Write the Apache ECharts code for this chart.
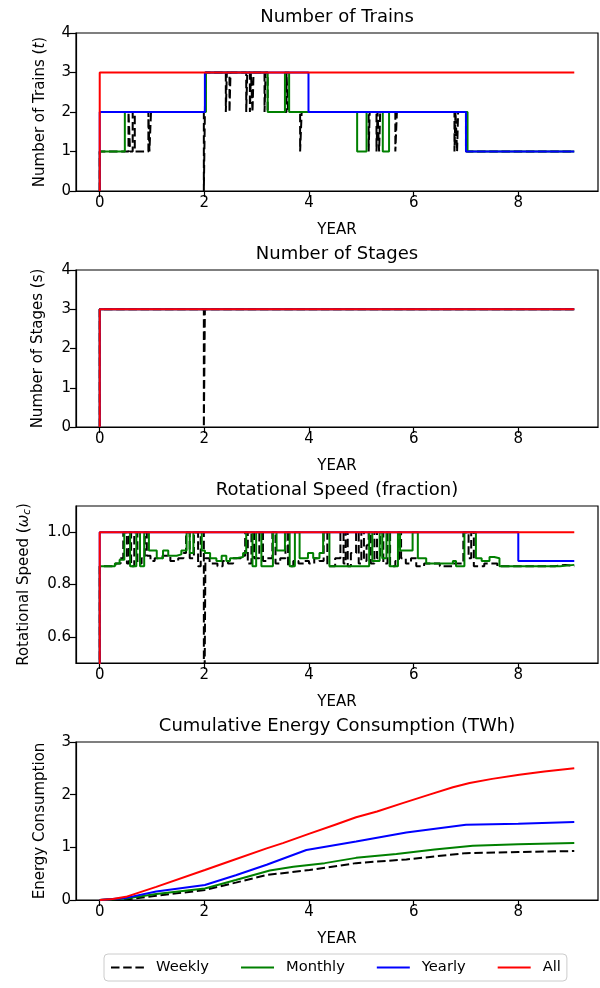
<!DOCTYPE html>
<html><head><meta charset="utf-8">
<script src="https://cdn.jsdelivr.net/npm/echarts@6/dist/echarts.min.js"></script>
<style>html,body{margin:0;padding:0;background:#fff}#c{width:600px;height:988px}</style>
</head><body><div id="c"></div>
<script>
const seriesNames = ['Weekly', 'Monthly', 'Yearly', 'All'];
const titles = ['Number of Trains', 'Number of Stages', 'Rotational Speed (fraction)', 'Cumulative Energy Consumption (TWh)'];
const xTicks = [0, 2, 4, 6, 8];
const speedTicks = [0.6, 0.8, 1.0];

// Number of Trains (step changes: [year, value from that year on])
const trainsWeekly = [[0,0],[0,1],[0.55,2],[0.58,1],[0.63,2],[0.67,1],[0.93,2],[0.95,1],[0.98,2],[1.99,0],[2.02,3],[2.41,2],[2.43,3],[2.48,2],[2.5,3],[2.8,2],[2.82,3],[2.87,2],[2.89,3],[2.92,2],[2.94,3],[3.15,2],[3.17,3],[3.21,2],[3.57,3],[3.6,2],[3.83,1],[3.86,2],[5.14,1],[5.16,2],[5.29,1],[5.31,2],[5.34,1],[5.36,2],[5.65,1],[5.68,2],[6.78,1],[6.8,2],[6.83,1],[6.85,2],[7.0,1],[9.07,1]];
const trainsMonthly = [[0,0],[0,1],[0.48,2],[2.03,3],[3.21,2],[3.54,3],[3.62,2],[4.92,1],[5.1,2],[5.41,1],[5.53,2],[7.03,1],[9.07,1]];
const trainsYearly = [[0,0],[0,2],[2.01,3],[3.99,2],[7.0,1],[9.07,1]];
const trainsAll = [[0,0],[0,3],[9.07,3]];

// Number of Stages
const stagesWeekly = [[0,0],[0,3],[1.99,0],[2.01,3],[9.07,3]];
const stagesMonthly = [[0,0],[0,3],[9.07,3]];
const stagesYearly = [[0,0],[0,3],[9.07,3]];
const stagesAll = [[0,0],[0,3],[9.07,3]];

// Rotational Speed (fraction)
const speedWeekly = [[0,0],[0,0.87],[0.3,0.88],[0.4,0.9],[0.45,1.0],[0.52,0.88],[0.56,1.0],[0.6,0.87],[0.66,1.0],[0.72,0.88],[0.8,0.9],[0.86,1.0],[0.9,0.91],[0.97,0.89],[1.05,0.9],[1.2,0.91],[1.35,0.89],[1.5,0.9],[1.6,0.92],[1.65,1.0],[1.72,0.9],[1.8,1.0],[1.88,0.87],[1.93,1.0],[1.99,0],[2.02,0.9],[2.1,0.88],[2.25,0.87],[2.35,0.89],[2.45,0.88],[2.55,0.9],[2.7,0.91],[2.78,1.0],[2.83,0.88],[2.9,1.0],[2.95,0.9],[3.05,1.0],[3.12,0.89],[3.2,0.9],[3.3,1.0],[3.36,0.88],[3.45,0.9],[3.55,1.0],[3.6,0.87],[3.7,0.89],[3.8,0.88],[3.9,0.89],[4.0,0.88],[4.1,0.9],[4.2,0.89],[4.28,1.0],[4.35,0.87],[4.5,0.9],[4.6,1.0],[4.66,0.88],[4.7,1.0],[4.74,0.87],[4.8,0.92],[4.9,1.0],[4.95,0.88],[5.0,1.0],[5.05,0.89],[5.1,0.95],[5.14,1.0],[5.18,0.88],[5.25,1.0],[5.3,0.9],[5.36,1.0],[5.42,0.88],[5.5,1.0],[5.55,0.87],[5.65,0.89],[5.72,1.0],[5.76,0.9],[5.85,0.88],[5.95,0.9],[6.05,0.87],[6.2,0.88],[6.5,0.87],[6.75,0.88],[6.95,1.0],[7.05,0.9],[7.1,1.0],[7.15,0.87],[7.35,0.88],[7.6,0.87],[8.7,0.875],[8.9,0.87],[9.07,0.87]];
const speedMonthly = [[0,0],[0,0.87],[0.29,0.88],[0.38,0.895],[0.47,1.0],[0.58,0.87],[0.7,1.0],[0.77,0.87],[0.85,1.0],[0.94,0.93],[1.09,0.9],[1.21,0.93],[1.31,0.91],[1.47,0.915],[1.56,0.93],[1.66,1.0],[1.72,0.92],[1.79,1.0],[1.95,0.93],[2.01,0.92],[2.11,0.9],[2.23,0.89],[2.33,0.91],[2.42,0.89],[2.49,0.9],[2.61,0.905],[2.74,0.92],[2.8,1.0],[2.92,0.87],[2.99,1.0],[3.09,0.87],[3.31,1.0],[3.38,0.93],[3.54,1.0],[3.63,0.87],[3.73,1.0],[3.82,0.9],[3.98,0.92],[4.08,0.9],[4.2,0.92],[4.27,1.0],[4.39,0.87],[5.15,1.0],[5.21,0.89],[5.35,1.0],[5.4,0.9],[5.48,1.0],[5.54,0.87],[5.7,1.0],[5.74,0.93],[5.98,1.0],[6.08,0.9],[6.24,0.88],[6.75,0.89],[6.81,0.87],[6.97,1.0],[7.19,0.9],[7.3,0.89],[7.45,0.905],[7.54,0.9],[7.64,0.87],[8.8,0.875],[9.07,0.875]];
const speedYearly = [[0,0],[0,1.0],[8.0,0.89],[9.07,0.89]];
const speedAll = [[0,0],[0,1.0],[9.07,1.0]];

// Cumulative Energy Consumption (TWh)
const energyWeekly = [[0,0],[0.58,0.02],[1.08,0.08],[2.01,0.19],[2.6,0.33],[3.19,0.475],[4.01,0.57],[4.9,0.7],[5.86,0.77],[7.0,0.89],[8.0,0.91],[9.07,0.93]];
const energyMonthly = [[0,0],[0.5,0.03],[1.08,0.114],[2.01,0.22],[2.6,0.38],[3.25,0.56],[3.7,0.63],[4.3,0.7],[4.9,0.8],[5.67,0.875],[6.4,0.96],[7.13,1.03],[8.0,1.06],[9.07,1.08]];
const energyYearly = [[0,0],[0.5,0.04],[1.08,0.16],[2.01,0.285],[2.6,0.47],[3.19,0.67],[3.95,0.95],[4.9,1.11],[5.86,1.28],[7.0,1.43],[8.0,1.45],[9.07,1.48]];
const energyAll = [[0,0],[0.25,0.02],[0.5,0.06],[1.08,0.25],[2.01,0.57],[2.5,0.74],[3.19,0.98],[3.5,1.08],[4.01,1.26],[4.5,1.43],[4.9,1.57],[5.3,1.68],[5.79,1.84],[6.3,2.0],[6.75,2.14],[7.07,2.22],[7.5,2.3],[8.02,2.38],[8.5,2.44],[9.07,2.5]];

const FONT = '"DejaVu Sans", sans-serif';
const colors = {Weekly:'#000000', Monthly:'#008000', Yearly:'#0000ff', All:'#ff0000'};
const grids = [
  {left:76, top:33, width:522, height:158},
  {left:76, top:270, width:522, height:157},
  {left:76, top:506, width:522, height:157},
  {left:76, top:742, width:522, height:158}
];
const panels = [
  {data:[trainsWeekly, trainsMonthly, trainsYearly, trainsAll], step:true, min:0, max:4, interval:1,
   name:'{n|Number of Trains (}{i|t}{n|)}', gap:28},
  {data:[stagesWeekly, stagesMonthly, stagesYearly, stagesAll], step:true, min:0, max:4, interval:1,
   name:'{n|Number of Stages (s)}', gap:30},
  {data:[speedWeekly, speedMonthly, speedYearly, speedAll], step:true, min:0.5, max:1.1, custom:speedTicks,
   name:'{n|Rotational Speed (}{i|ω}{s|c}{n|)}', gap:43},
  {data:[energyWeekly, energyMonthly, energyYearly, energyAll], step:false, min:0, max:3, interval:1,
   name:'{n|Energy Consumption}', gap:28}
];
const rich = {
  n:{fontSize:15, fontFamily:FONT, color:'#000'},
  i:{fontSize:15, fontFamily:FONT, fontStyle:'italic', color:'#000'},
  s:{fontSize:10.5, fontFamily:FONT, fontStyle:'italic', color:'#000', padding:[7,0,0,0]}
};
const axisLine = {show:true, onZero:false, lineStyle:{color:'#000', width:1.2}};
const axisTick = {show:true, length:6, inside:false, lineStyle:{color:'#000', width:1.2}};
const labelStyle = {color:'#000', fontSize:15, fontFamily:FONT};

const xAxis = [], yAxis = [], series = [], graphic = [];
grids.forEach((g, i) => {
  const p = panels[i];
  xAxis.push({type:'value', gridIndex:i, min:-0.4535, max:9.5235,
    name:'YEAR', nameLocation:'middle', nameGap:32,
    nameTextStyle:{color:'#000', fontSize:15, fontFamily:FONT},
    axisLine, axisTick:Object.assign({customValues:xTicks}, axisTick),
    axisLabel:Object.assign({customValues:xTicks, margin:5}, labelStyle),
    splitLine:{show:false}});
  const y = {type:'value', gridIndex:i, min:p.min, max:p.max,
    name:p.name, nameLocation:'middle', nameGap:p.gap, nameRotate:90,
    nameTextStyle:{rich},
    axisLine, axisTick:Object.assign({}, axisTick),
    axisLabel:Object.assign({margin:5}, labelStyle),
    splitLine:{show:false}};
  if (p.custom) {
    y.axisTick.customValues = p.custom;
    y.axisLabel.customValues = p.custom;
    y.axisLabel.formatter = v => v.toFixed(1);
  } else {
    y.interval = p.interval;
  }
  yAxis.push(y);
  seriesNames.forEach((nm, k) => {
    series.push({type:'line', name:nm, xAxisIndex:i, yAxisIndex:i, data:p.data[k],
      step:p.step ? 'end' : false, symbol:'none', showSymbol:false, clip:true,
      lineStyle:{color:colors[nm], width:2, type: nm === 'Weekly' ? [8.5, 3.7] : 'solid'},
      itemStyle:{color:colors[nm]}, emphasis:{disabled:true}});
  });
  graphic.push({type:'text', x:g.left + g.width/2, y:g.top - 16,
    style:{text:titles[i], font:'18px ' + FONT, fill:'#000', textAlign:'center', textVerticalAlign:'middle'}});
});

const chart = echarts.init(document.getElementById('c'), null, {renderer:'canvas'});
chart.setOption({
  animation:false,
  backgroundColor:'#fff',
  grid: grids.map(g => Object.assign({show:true, borderColor:'#000', borderWidth:1.2, backgroundColor:'transparent', containLabel:false}, g)),
  xAxis, yAxis, series, graphic,
  legend:{data:seriesNames, left:104, top:954, orient:'horizontal',
    padding:[6,6,6,6], itemWidth:33, itemHeight:14, itemGap:31,
    itemStyle:{opacity:0, borderWidth:0},
    borderColor:'#cccccc', borderWidth:1, borderRadius:4, backgroundColor:'#fff',
    textStyle:{color:'#000', fontSize:14.7, fontFamily:FONT, padding:[0,0,0,7]}}
});
</script></body></html>
